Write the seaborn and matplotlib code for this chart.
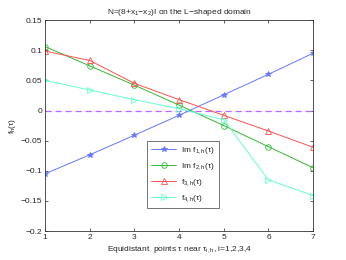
import numpy as np
import pandas as pd
import matplotlib
matplotlib.use("Agg")
import matplotlib.pyplot as plt
import seaborn as sns

#%% data
points = [1, 2, 3, 4, 5, 6, 7]
im_f1 = [-0.105, -0.0735, -0.041, -0.008, 0.026, 0.060, 0.095]
im_f2 = [0.106, 0.074, 0.042, 0.009, -0.025, -0.060, -0.095]
f3 = [0.0985, 0.083, 0.045, 0.018, -0.008, -0.034, -0.061]
f4 = [0.050, 0.034, 0.018, 0.003, -0.0155, -0.115, -0.141]

labels = [r"Im f$_{1,h}$($\tau$)", r"Im f$_{2,h}$($\tau$)",
          r"f$_{3,h}$($\tau$)", r"f$_{4,h}$($\tau$)"]
yticks = [-0.2, -0.15, -0.1, -0.05, 0, 0.05, 0.1, 0.15]
yticklabels = ["\u22120.2", "\u22120.15", "\u22120.1", "\u22120.05", "0", "0.05", "0.1", "0.15"]

#%%
sns.set_style("ticks")
plt.rcParams["font.family"] = ["Liberation Sans", "DejaVu Sans"]
plt.rcParams["mathtext.fontset"] = "custom"
plt.rcParams["mathtext.rm"] = "Liberation Sans"
plt.rcParams["mathtext.it"] = "Liberation Sans"
plt.rcParams["xtick.direction"] = "in"
plt.rcParams["ytick.direction"] = "in"

fig = plt.figure(figsize=(3.46, 2.60), dpi=100)
ax = fig.add_axes([0.130, 0.111, 0.775, 0.812])

df = pd.DataFrame({"x": points, "f1": im_f1, "f2": im_f2, "f3": f3, "f4": f4})

styles = [("f1", "#6677ff", "*", "#6677ff"),
          ("f2", "#33b833", "o", "none"),
          ("f3", "#ff5050", "^", "none"),
          ("f4", "#66ffcc", ">", "none")]

# zero line first so the curves sit on top
ax.axhline(0, color="#bb66ff", linestyle=(0, (5, 3)), linewidth=0.9, zorder=1)

for (col, c, m, fc), lab in zip(styles, labels):
    sns.lineplot(data=df, x="x", y=col, ax=ax, color=c, marker=m, markersize=4,
                 markerfacecolor=fc, markeredgecolor=c, markeredgewidth=0.6,
                 linewidth=0.7, label=lab, zorder=2)

ax.set_xlim(1, 7)
ax.set_ylim(-0.2, 0.15)
ax.set_xticks(points)
ax.set_yticks(yticks)
ax.set_yticklabels(yticklabels)
ax.tick_params(labelsize=6, length=2.5, width=0.5, top=True, right=True, pad=2)
for s in ax.spines.values():
    s.set_linewidth(0.6)
    s.set_color("#333333")

ax.set_title("N=(8+x$_1$\u2212x$_2$)I on the L\u2212shaped domain", fontsize=6, pad=4)
ax.set_xlabel(r"Equidistant  points $\tau$ near $\tau_{i,h}$, i=1,2,3,4", fontsize=6, labelpad=2)
ax.set_ylabel(r"f$_h$($\tau$)", fontsize=6, labelpad=2)

leg = ax.legend(loc="lower left", bbox_to_anchor=(0.365, 0.09), fontsize=6,
                frameon=True, fancybox=False, edgecolor="#333333", borderpad=0.5,
                handlelength=3.0, labelspacing=0.6, handletextpad=0.6)
leg.get_frame().set_linewidth(0.6)

fig.savefig("out.png", dpi=100)
